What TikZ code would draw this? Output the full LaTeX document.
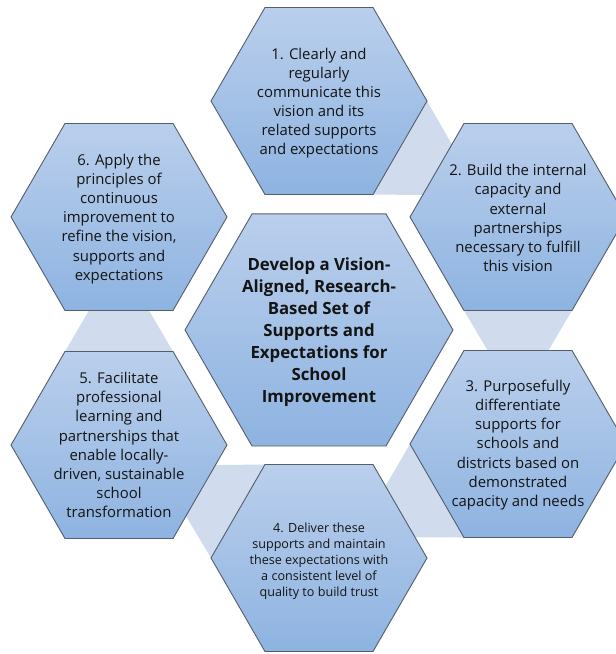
\documentclass[tikz,border=0pt]{standalone}
\usepackage{fontspec}
\setmainfont{Open Sans}
\usetikzlibrary{calc}
\definecolor{hextop}{RGB}{186,207,236}
\definecolor{hexbot}{RGB}{142,179,225}
\definecolor{hexline}{RGB}{84,94,106}
\definecolor{conncol}{RGB}{208,219,237}
\definecolor{txtcol}{RGB}{20,20,20}
\newcommand{\hexagonat}[2]{\path[hexshape] ($(#1)+(0:#2)$) -- ++(120:#2) -- ++(180:#2) -- ++(240:#2) -- ++(300:#2) -- ++(0:#2) -- cycle;}
\begin{document}
\begin{tikzpicture}[x=1pt,y=1pt,
  hexshape/.style={top color=hextop,bottom color=hexbot,draw=hexline,line width=0.9pt,line join=miter},
  conn/.style={fill=conncol},
  steptext/.style={align=center,text=txtcol,inner sep=0pt,font=\fontsize{14.9}{19.1}\selectfont},
  smalltext/.style={align=center,text=txtcol,inner sep=0pt,font=\fontsize{12.6}{16}\selectfont},
  centertext/.style={align=center,text=txtcol,inner sep=0pt,font=\fontsize{16.8}{22}\selectfont\bfseries}]
\path[use as bounding box] (0,0) rectangle (616,654);
\clip (0,0) rectangle (616,654);
% hexagon centres
\coordinate (p1) at (319,553);
\coordinate (p2) at (518,437);
\coordinate (p3) at (518,210);
\coordinate (p4) at (319,96);
\coordinate (p5) at (119,209);
\coordinate (p6) at (119,437);
\coordinate (pc) at (319,324);
% connectors
\fill[conn] ($(p1)+(0:108)$) -- ($(p1)+(-60:108)$) -- ($(p1)!0.815!(p2)$) -- cycle;
\fill[conn] ($(p2)+(-60:108)$) -- ($(p2)+(-120:108)$) -- ($(p2)!0.815!(p3)$) -- cycle;
\fill[conn] ($(p3)+(240:108)$) -- ($(p3)+(180:108)$) -- ($(p3)!0.815!(p4)$) -- cycle;
\fill[conn] ($(p4)+(180:108)$) -- ($(p4)+(120:108)$) -- ($(p4)!0.815!(p5)$) -- cycle;
\fill[conn] ($(p5)+(120:108)$) -- ($(p5)+(60:108)$) -- ($(p5)!0.815!(p6)$) -- cycle;
% hexagons
\hexagonat{p1}{108}
\hexagonat{p2}{108}
\hexagonat{p3}{108}
\hexagonat{p4}{108}
\hexagonat{p5}{108}
\hexagonat{p6}{108}
\hexagonat{pc}{134}
% texts
\node[steptext] (t1) at (319,551) {1. Clearly and\\regularly\\communicate this\\vision and its\\related supports\\and expectations};
\node[steptext] (t2) at (518,436) {2. Build the internal\\capacity and\\external\\partnerships\\necessary to fulfill\\this vision};
\node[steptext] (t3) at (518,209) {3. Purposefully\\differentiate\\supports for\\schools and\\districts based on\\demonstrated\\capacity and needs};
\node[smalltext] (t4) at (319,93) {4. Deliver these\\supports and maintain\\these expectations with\\a consistent level of\\quality to build trust};
\node[steptext] (t5) at (119,209) {5. Facilitate\\professional\\learning and\\partnerships that\\enable locally-\\driven, sustainable\\school\\transformation};
\node[steptext] (t6) at (119,435) {6. Apply the\\principles of\\continuous\\improvement to\\refine the vision,\\supports and\\expectations};
\node[centertext] (tc) at (319,321.5) {Develop a Vision-\\Aligned, Research-\\Based Set of\\Supports and\\Expectations for\\School\\Improvement};
\end{tikzpicture}
\end{document}
